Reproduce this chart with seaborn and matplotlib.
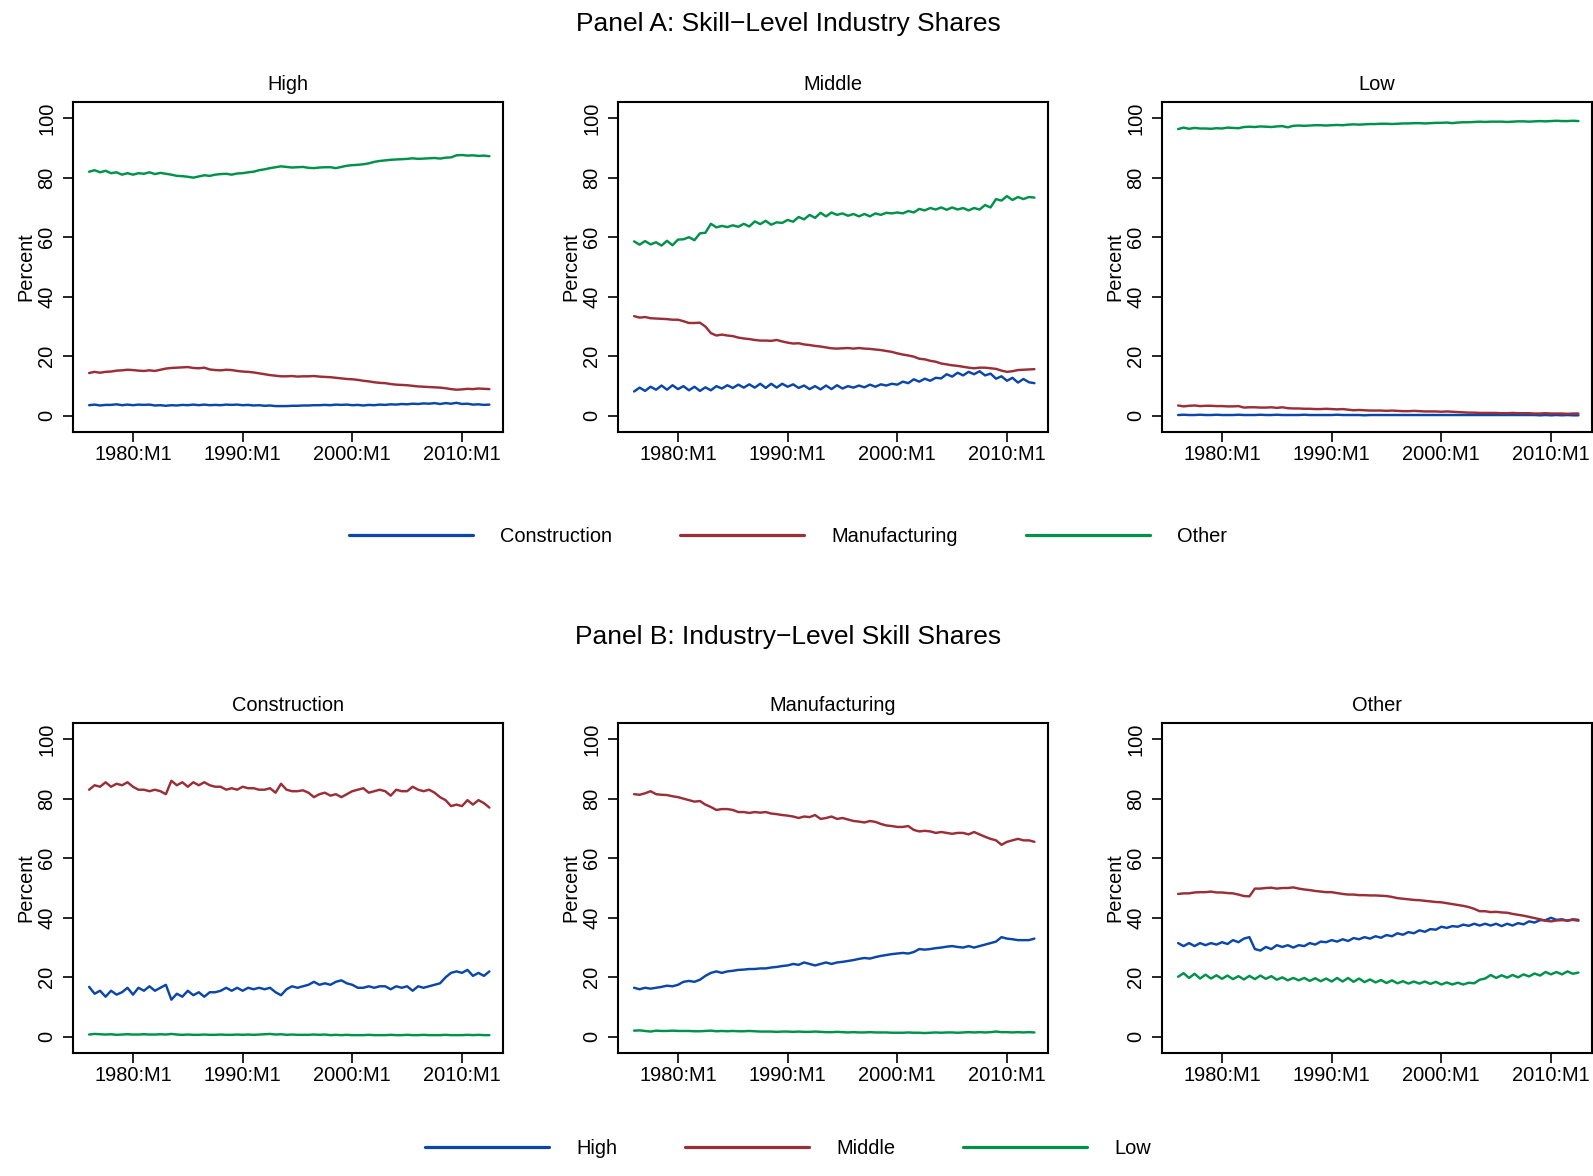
import numpy as np
import pandas as pd
import matplotlib
matplotlib.use("Agg")
import matplotlib.pyplot as plt
import seaborn as sns
from matplotlib.lines import Line2D

# ---------------- data (semiannual readings: Jan, Jul of each year) ----------------
years = np.arange(1976.0, 2012.51, 0.5)

a_high_constr = [3.6, 3.8, 3.5, 3.7, 3.7, 3.9, 3.6, 3.8, 3.6, 3.8,
                 3.7, 3.8, 3.5, 3.6, 3.4, 3.6, 3.5, 3.7, 3.6, 3.8,
                 3.6, 3.8, 3.6, 3.7, 3.6, 3.8, 3.7, 3.8, 3.6, 3.7,
                 3.5, 3.6, 3.4, 3.5, 3.3, 3.3, 3.3, 3.4, 3.4, 3.5,
                 3.5, 3.6, 3.6, 3.7, 3.6, 3.8, 3.7, 3.8, 3.6, 3.7,
                 3.5, 3.7, 3.6, 3.8, 3.7, 3.9, 3.8, 4.0, 3.9, 4.1,
                 4.0, 4.2, 4.1, 4.3, 4.0, 4.3, 4.1, 4.4, 4.0, 4.1,
                 3.8, 3.9, 3.7, 3.8]
a_high_manuf = [14.4, 14.8, 14.5, 14.8, 14.9, 15.2, 15.3, 15.5, 15.4, 15.2,
                15.1, 15.3, 15.1, 15.5, 15.9, 16.1, 16.2, 16.3, 16.4, 16.1,
                16.0, 16.2, 15.6, 15.4, 15.3, 15.5, 15.4, 15.1, 14.9, 14.8,
                14.6, 14.3, 14.0, 13.7, 13.5, 13.3, 13.3, 13.4, 13.2, 13.3,
                13.3, 13.4, 13.2, 13.1, 13.0, 12.8, 12.6, 12.4, 12.3, 12.1,
                11.8, 11.6, 11.3, 11.1, 11.0, 10.7, 10.5, 10.4, 10.3, 10.1,
                9.9, 9.8, 9.7, 9.6, 9.5, 9.3, 9.0, 8.8, 8.9, 9.1,
                9.0, 9.2, 9.1, 9.0]
a_high_other = [82.0, 82.5, 81.8, 82.3, 81.5, 81.8, 81.0, 81.5, 81.0, 81.5,
                81.3, 81.8, 81.2, 81.6, 81.3, 81.0, 80.6, 80.5, 80.3, 80.0,
                80.4, 80.8, 80.6, 81.0, 81.2, 81.3, 81.0, 81.4, 81.5, 81.8,
                82.0, 82.5, 82.8, 83.2, 83.5, 83.8, 83.6, 83.4, 83.5, 83.6,
                83.3, 83.2, 83.4, 83.5, 83.5, 83.2, 83.6, 84.0, 84.2, 84.3,
                84.5, 84.8, 85.3, 85.6, 85.8, 86.0, 86.1, 86.2, 86.3, 86.5,
                86.3, 86.4, 86.5, 86.6, 86.4, 86.7, 86.8, 87.5, 87.6, 87.4,
                87.5, 87.3, 87.4, 87.2]

a_mid_constr = [8.2, 9.5, 8.4, 9.8, 8.8, 10.2, 8.8, 10.3, 9.0, 10.0,
                8.6, 9.8, 8.4, 9.6, 8.6, 10.0, 9.2, 10.3, 9.4, 10.5,
                9.5, 10.6, 9.5, 10.8, 9.4, 10.8, 9.5, 10.8, 9.8, 10.6,
                9.4, 10.2, 9.0, 10.0, 8.9, 10.2, 9.0, 10.3, 9.2, 10.0,
                9.5, 10.2, 9.6, 10.5, 9.8, 10.6, 10.2, 10.8, 10.5, 11.5,
                11.0, 12.3, 11.5, 12.5, 11.8, 12.8, 12.6, 14.0, 13.2, 14.5,
                13.6, 14.8, 14.0, 15.0, 13.6, 14.2, 12.5, 13.3, 11.8, 12.8,
                11.2, 12.4, 11.3, 11.0]
a_mid_manuf = [33.5, 33.0, 33.2, 32.8, 32.7, 32.6, 32.5, 32.3, 32.3, 31.8,
               31.2, 31.2, 31.3, 30.0, 27.8, 27.0, 27.3, 27.0, 26.8, 26.3,
               26.0, 25.8, 25.5, 25.3, 25.3, 25.2, 25.5, 25.0, 24.6, 24.3,
               24.4, 24.0, 23.8, 23.5, 23.3, 23.0, 22.7, 22.6, 22.7, 22.8,
               22.6, 22.8, 22.6, 22.5, 22.3, 22.1, 21.8, 21.5, 21.0, 20.6,
               20.3, 19.9, 19.2, 19.0, 18.5, 18.2, 17.6, 17.3, 17.0, 16.8,
               16.5, 16.2, 16.0, 16.2, 16.2, 16.0, 15.8, 15.2, 14.8, 15.0,
               15.4, 15.5, 15.6, 15.7]
a_mid_other = [58.6, 57.5, 58.7, 57.6, 58.3, 57.2, 58.8, 57.3, 59.2, 59.3,
               60.0, 59.0, 61.3, 61.5, 64.5, 63.3, 63.8, 63.4, 64.0, 63.5,
               64.5, 63.6, 65.3, 64.4, 65.5, 64.2, 65.0, 64.8, 65.8, 65.2,
               66.8, 66.0, 67.5, 66.5, 68.2, 67.0, 68.3, 67.5, 68.0, 67.2,
               67.8, 67.0, 67.8, 67.0, 68.0, 67.5, 68.2, 68.0, 68.3, 68.0,
               68.8, 68.3, 69.5, 69.0, 69.8, 69.3, 70.0, 69.2, 70.0, 69.3,
               69.8, 69.0, 69.8, 69.3, 70.8, 70.0, 72.8, 72.3, 73.8, 72.5,
               73.5, 72.8, 73.5, 73.3]

a_low_constr = [0.3, 0.4, 0.3, 0.3, 0.4, 0.3, 0.3, 0.4, 0.3, 0.3,
                0.3, 0.4, 0.3, 0.3, 0.3, 0.4, 0.3, 0.3, 0.4, 0.3,
                0.3, 0.3, 0.3, 0.4, 0.3, 0.3, 0.3, 0.3, 0.3, 0.4,
                0.3, 0.3, 0.3, 0.3, 0.2, 0.3, 0.3, 0.3, 0.3, 0.3,
                0.3, 0.3, 0.3, 0.3, 0.3, 0.3, 0.3, 0.3, 0.3, 0.3,
                0.3, 0.3, 0.3, 0.3, 0.3, 0.3, 0.3, 0.3, 0.3, 0.3,
                0.3, 0.3, 0.3, 0.3, 0.3, 0.3, 0.2, 0.3, 0.2, 0.3,
                0.2, 0.3, 0.2, 0.2]
a_low_manuf = [3.5, 3.2, 3.4, 3.5, 3.3, 3.4, 3.4, 3.3, 3.3, 3.2,
               3.2, 3.3, 2.8, 2.9, 2.9, 2.8, 2.8, 2.9, 2.7, 2.9,
               2.6, 2.5, 2.5, 2.4, 2.4, 2.3, 2.3, 2.4, 2.3, 2.2,
               2.3, 2.1, 1.9, 2.0, 1.9, 1.8, 1.8, 1.8, 1.7, 1.8,
               1.7, 1.6, 1.6, 1.7, 1.6, 1.5, 1.5, 1.5, 1.4, 1.5,
               1.4, 1.3, 1.2, 1.1, 1.1, 1.0, 1.0, 1.0, 1.0, 0.9,
               0.9, 1.0, 0.9, 0.9, 0.9, 0.8, 0.8, 0.9, 0.8, 0.8,
               0.8, 0.7, 0.8, 0.8]
a_low_other = [96.3, 96.8, 96.4, 96.7, 96.5, 96.5, 96.4, 96.6, 96.5, 96.8,
               96.7, 96.6, 97.0, 97.1, 97.0, 97.2, 97.1, 97.0, 97.2, 97.3,
               96.9, 97.4, 97.5, 97.4, 97.5, 97.6, 97.6, 97.5, 97.6, 97.7,
               97.6, 97.8, 97.9, 97.8, 97.9, 98.0, 98.0, 98.1, 98.1, 98.0,
               98.1, 98.2, 98.2, 98.3, 98.3, 98.2, 98.3, 98.4, 98.4, 98.5,
               98.3, 98.5, 98.6, 98.6, 98.7, 98.8, 98.7, 98.8, 98.8, 98.8,
               98.7, 98.8, 98.9, 98.9, 98.8, 98.9, 99.0, 98.9, 99.0, 99.1,
               99.0, 99.0, 99.1, 99.0]

b_constr_high = [16.8, 14.5, 15.5, 13.5, 15.5, 14.2, 15.0, 16.5, 14.2, 16.5,
                 15.5, 17.0, 15.5, 16.5, 17.5, 12.5, 14.5, 13.5, 15.5, 14.0,
                 15.0, 13.5, 15.0, 15.0, 15.5, 16.5, 15.5, 16.5, 15.5, 16.5,
                 16.0, 16.5, 16.0, 16.5, 15.0, 14.0, 16.0, 17.0, 16.5, 17.0,
                 17.5, 18.5, 17.5, 18.0, 17.5, 18.5, 19.0, 18.0, 17.5, 16.5,
                 16.5, 17.0, 16.5, 17.0, 17.0, 16.0, 17.0, 16.5, 17.0, 15.5,
                 17.0, 16.5, 17.0, 17.5, 18.0, 20.0, 21.5, 22.0, 21.5, 22.5,
                 20.5, 21.5, 20.5, 22.0]
b_constr_mid = [83.0, 84.5, 84.0, 85.5, 84.0, 85.0, 84.5, 85.5, 84.0, 83.0,
                83.0, 82.5, 83.0, 82.5, 81.5, 86.0, 84.5, 85.5, 84.0, 85.5,
                84.5, 85.5, 84.5, 84.0, 84.0, 83.0, 83.5, 83.0, 84.0, 83.5,
                83.5, 83.0, 83.0, 83.5, 82.0, 85.0, 83.0, 82.5, 82.5, 82.8,
                82.0, 80.5, 81.5, 82.0, 81.0, 81.5, 80.5, 81.5, 82.5, 83.0,
                83.5, 82.0, 82.5, 83.0, 82.5, 81.0, 83.0, 82.5, 82.5, 84.0,
                83.0, 82.5, 83.0, 82.0, 80.5, 79.5, 77.5, 78.0, 77.5, 79.5,
                78.0, 79.5, 78.5, 77.0]
b_constr_low = [0.8, 1.0, 0.9, 0.8, 0.9, 0.7, 0.8, 0.9, 0.8, 0.8,
                0.9, 0.8, 0.8, 0.9, 0.8, 1.0, 0.8, 0.7, 0.8, 0.7,
                0.7, 0.8, 0.7, 0.7, 0.8, 0.7, 0.7, 0.8, 0.7, 0.8,
                0.7, 0.8, 0.9, 1.0, 0.8, 0.9, 0.7, 0.8, 0.7, 0.7,
                0.7, 0.8, 0.7, 0.8, 0.6, 0.7, 0.6, 0.7, 0.6, 0.6,
                0.6, 0.7, 0.6, 0.6, 0.6, 0.7, 0.6, 0.6, 0.7, 0.6,
                0.6, 0.7, 0.6, 0.6, 0.6, 0.7, 0.6, 0.6, 0.6, 0.7,
                0.6, 0.7, 0.6, 0.6]

b_manuf_high = [16.5, 16.0, 16.5, 16.2, 16.5, 16.8, 17.2, 17.0, 17.5, 18.5,
                18.8, 18.5, 19.2, 20.5, 21.5, 22.0, 21.5, 22.0, 22.2, 22.5,
                22.6, 22.8, 22.8, 23.0, 23.0, 23.3, 23.5, 23.8, 24.0, 24.5,
                24.2, 25.0, 24.5, 24.0, 24.5, 25.0, 24.5, 25.0, 25.2, 25.5,
                25.8, 26.2, 26.5, 26.3, 26.8, 27.2, 27.5, 27.8, 28.0, 28.2,
                28.0, 28.5, 29.5, 29.3, 29.5, 29.8, 30.0, 30.3, 30.5, 30.2,
                30.0, 30.5, 30.0, 30.5, 31.0, 31.5, 32.0, 33.5, 33.0, 32.8,
                32.5, 32.5, 32.5, 33.0]
b_manuf_mid = [81.5, 81.3, 81.8, 82.5, 81.5, 81.3, 81.2, 80.8, 80.5, 80.0,
               79.5, 79.0, 79.2, 78.0, 77.2, 76.2, 76.5, 76.5, 76.2, 75.5,
               75.5, 75.2, 75.5, 75.3, 75.5, 75.0, 74.8, 74.5, 74.3, 74.0,
               73.5, 74.0, 73.8, 74.5, 73.2, 73.5, 74.0, 73.2, 73.5, 73.0,
               72.5, 72.3, 72.0, 72.5, 72.2, 71.5, 71.0, 70.8, 70.5, 70.5,
               70.8, 69.5, 69.0, 69.2, 69.0, 68.5, 68.8, 68.5, 68.2, 68.5,
               68.5, 68.0, 68.8, 68.0, 67.2, 66.5, 66.0, 64.5, 65.5, 66.0,
               66.5, 66.0, 66.0, 65.5]
b_manuf_low = [2.1, 2.2, 2.0, 1.8, 2.1, 2.0, 2.0, 2.1, 2.0, 2.0,
               2.0, 1.9, 1.9, 2.0, 2.1, 1.9, 2.0, 1.9, 2.0, 1.9,
               1.9, 2.0, 1.9, 1.8, 1.8, 1.8, 1.7, 1.8, 1.8, 1.7,
               1.8, 1.7, 1.7, 1.8, 1.7, 1.6, 1.6, 1.7, 1.6, 1.5,
               1.6, 1.5, 1.5, 1.6, 1.5, 1.5, 1.5, 1.4, 1.4, 1.4,
               1.5, 1.4, 1.4, 1.3, 1.4, 1.5, 1.4, 1.5, 1.5, 1.4,
               1.5, 1.6, 1.5, 1.6, 1.5, 1.6, 1.8, 1.6, 1.6, 1.5,
               1.6, 1.5, 1.6, 1.5]

b_other_high = [31.5, 30.5, 31.5, 30.5, 31.5, 30.8, 31.5, 31.0, 31.8, 31.2,
                32.5, 31.8, 33.0, 33.5, 29.5, 29.0, 30.2, 29.5, 30.8, 30.2,
                30.8, 30.0, 30.8, 30.5, 31.5, 31.0, 32.0, 31.8, 32.5, 32.0,
                32.8, 32.2, 33.2, 32.8, 33.5, 33.0, 33.8, 33.3, 34.2, 33.8,
                34.8, 34.3, 35.2, 34.8, 35.8, 35.3, 36.2, 36.0, 37.0, 36.6,
                37.2, 37.0, 37.7, 37.3, 38.0, 37.4, 38.0, 37.4, 38.0, 37.2,
                38.0, 37.4, 38.2, 37.8, 38.8, 38.4, 39.2, 39.2, 40.0, 39.3,
                39.5, 39.0, 39.5, 39.3]
b_other_mid = [48.0, 48.2, 48.2, 48.5, 48.6, 48.6, 48.8, 48.5, 48.5, 48.3,
               48.2, 47.8, 47.3, 47.2, 49.8, 49.8, 50.0, 50.1, 49.8, 50.0,
               50.0, 50.2, 49.8, 49.5, 49.3, 49.0, 48.8, 48.6, 48.6, 48.3,
               48.0, 47.8, 47.8, 47.6, 47.6, 47.5, 47.5, 47.4, 47.3, 47.0,
               46.6, 46.4, 46.2, 46.0, 45.9, 45.7, 45.5, 45.3, 45.2, 44.9,
               44.6, 44.3, 44.0, 43.6, 43.0, 42.2, 42.2, 41.9, 42.0, 41.8,
               41.7, 41.3, 41.0, 40.7, 40.3, 39.9, 39.5, 39.0, 38.8, 39.1,
               39.2, 39.1, 39.3, 39.0]
b_other_low = [20.2, 21.4, 19.8, 21.2, 19.6, 20.9, 19.6, 20.7, 19.5, 20.6,
               19.4, 20.4, 19.3, 20.5, 19.4, 20.6, 19.5, 20.4, 19.2, 20.0,
               19.0, 19.8, 19.0, 19.8, 18.8, 19.7, 18.7, 19.6, 18.6, 19.8,
               18.6, 19.8, 18.5, 19.6, 18.4, 19.3, 18.3, 19.1, 18.1, 19.0,
               18.0, 18.7, 17.9, 18.6, 17.9, 18.6, 17.8, 18.5, 17.6, 18.3,
               17.6, 18.2, 17.6, 18.2, 18.0, 19.2, 19.6, 20.8, 19.8, 20.7,
               19.9, 20.8, 20.0, 21.0, 20.3, 21.3, 20.6, 21.8, 21.0, 21.8,
               21.0, 22.0, 21.2, 21.6]

industries = ["Construction", "Manufacturing", "Other"]
skills = ["High", "Middle", "Low"]
x_ticks = [1980, 1990, 2000, 2010]
x_tick_labels = ["1980:M1", "1990:M1", "2000:M1", "2010:M1"]
y_ticks = [0, 20, 40, 60, 80, 100]

panel_a = {
    "High": [a_high_constr, a_high_manuf, a_high_other],
    "Middle": [a_mid_constr, a_mid_manuf, a_mid_other],
    "Low": [a_low_constr, a_low_manuf, a_low_other],
}
panel_b = {
    "Construction": [b_constr_high, b_constr_mid, b_constr_low],
    "Manufacturing": [b_manuf_high, b_manuf_mid, b_manuf_low],
    "Other": [b_other_high, b_other_mid, b_other_low],
}

# ---------------- style ----------------
sns.set_style("ticks")
plt.rcParams['font.family'] = ['Liberation Sans', 'DejaVu Sans']
for key in ["text.color", "axes.labelcolor", "xtick.color", "ytick.color",
            "axes.edgecolor"]:
    plt.rcParams[key] = "black"
BLUE, RED, GREEN = "#0B47A8", "#9A2F38", "#00924A"
colors = [BLUE, RED, GREEN]
FS = 14.4

W_PX, H_PX = 1593, 1176
fig = plt.figure(figsize=(W_PX / 100, H_PX / 100), dpi=100)

col_left = [73, 618, 1162]
ax_w = 430
row_top = [102, 723]
ax_h = 330


def draw_panel(ax, title, series_list, names):
    df = pd.DataFrame({
        "year": np.tile(years, len(names)),
        "value": np.concatenate([np.asarray(s, dtype=float) for s in series_list]),
        "series": np.repeat(names, len(years)),
    })
    sns.lineplot(data=df, x="year", y="value", hue="series", hue_order=names,
                 palette=dict(zip(names, colors)), estimator=None, legend=False,
                 ax=ax, linewidth=1.75)
    ax.set_xlim(1974.53, 2013.74)
    ax.set_ylim(-5.4, 105.4)
    ax.set_xticks(x_ticks)
    ax.set_xticklabels(x_tick_labels)
    ax.set_yticks(y_ticks)
    ax.set_yticklabels([str(v) for v in y_ticks])
    ax.set_xlabel("")
    ax.set_ylabel("Percent", fontsize=FS, labelpad=1)
    ax.set_title(title, fontsize=FS, pad=8.6, color="black")
    ax.tick_params(axis="both", direction="out", length=7.2, width=1.2,
                   color="black", labelsize=FS, labelcolor="black")
    ax.tick_params(axis="x", pad=2)
    ax.tick_params(axis="y", pad=5)
    for lab in ax.get_yticklabels():
        lab.set_rotation(90)
        lab.set_va("center")
        lab.set_ha("right")
    for sp in ax.spines.values():
        sp.set_visible(True)
        sp.set_linewidth(1.5)
        sp.set_color("black")
    ax.grid(False)


for r, panel in enumerate([panel_a, panel_b]):
    names = industries if r == 0 else skills
    for c, (title, series_list) in enumerate(panel.items()):
        top = row_top[r]
        ax = fig.add_axes([col_left[c] / W_PX, 1 - (top + ax_h) / H_PX,
                           ax_w / W_PX, ax_h / H_PX])
        draw_panel(ax, title, series_list, names)

fig.text(788 / W_PX, 1 - 24 / H_PX, "Panel A: Skill\u2212Level Industry Shares",
         ha="center", va="center", fontsize=19, color="black")
fig.text(788 / W_PX, 1 - 637 / H_PX, "Panel B: Industry\u2212Level Skill Shares",
         ha="center", va="center", fontsize=19, color="black")

for labels, ycen in [(industries, 536), (skills, 1148)]:
    handles = [Line2D([], [], color=col, lw=2.3) for col in colors]
    leg = fig.legend(handles, labels, loc="center",
                     bbox_to_anchor=(788 / W_PX, 1 - ycen / H_PX), ncol=3,
                     frameon=False, fontsize=FS, handlelength=6.2,
                     handletextpad=1.35, columnspacing=3.4, borderpad=0,
                     borderaxespad=0)
    for t in leg.get_texts():
        t.set_color("black")

fig.savefig("out.png", dpi=100)
